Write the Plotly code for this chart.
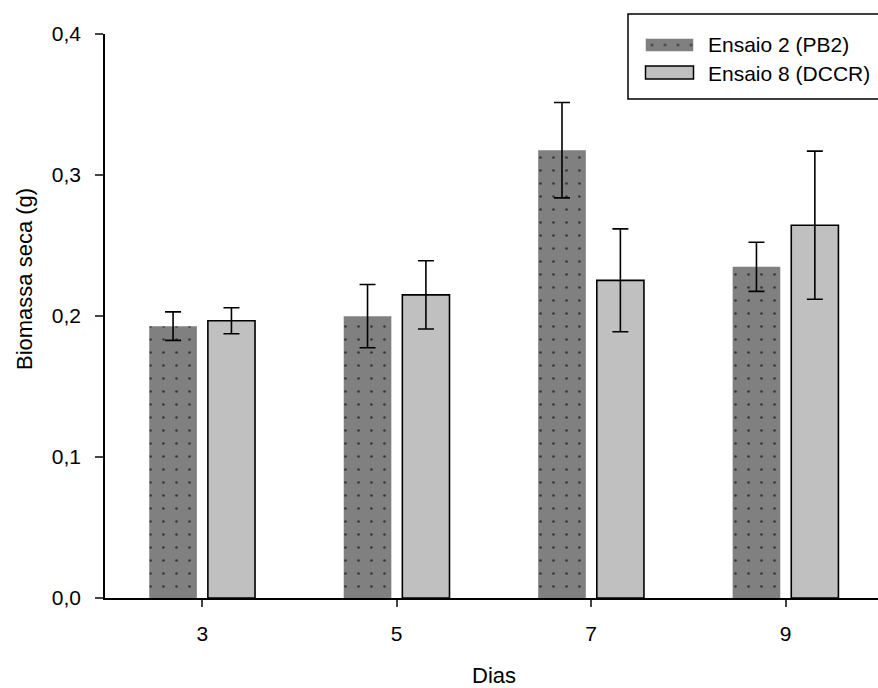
import plotly.graph_objects as go

dias = [3, 5, 7, 9]
ensaio2 = [0.1928, 0.1999, 0.3176, 0.2349]
ensaio2_err = [0.0101, 0.0224, 0.0338, 0.0174]
ensaio8 = [0.1966, 0.2150, 0.2253, 0.2644]
ensaio8_err = [0.0092, 0.0242, 0.0365, 0.0525]
y_ticks = [0.0, 0.1, 0.2, 0.3, 0.4]
nome2 = "Ensaio 2 (PB2)"
nome8 = "Ensaio 8 (DCCR)"

FONT = "Liberation Sans, Arial, sans-serif"
DARK = "#808080"
LIGHT = "#c0c0c0"

# plot geometry (px)
L, R, T, B = 105, 878, 34, 598
W, H = 878, 688
pw, ph = R - L, B - T
def px(x):
    return (x - L) / pw
def py(y):
    return (B - y) / ph

pattern = dict(shape=".", fgcolor="#383838", bgcolor=DARK, size=13, solidity=0.035, fillmode="replace")

fig = go.Figure()
fig.add_trace(go.Bar(
    x=dias, y=ensaio2, name=nome2, width=0.49, offset=-0.545,
    marker=dict(color=DARK, pattern=pattern, line=dict(width=0)),
    error_y=dict(type="data", array=ensaio2_err, color="black", thickness=1.6, width=8),
    showlegend=False,
))
fig.add_trace(go.Bar(
    x=dias, y=ensaio8, name=nome8, width=0.485, offset=0.058,
    marker=dict(color=LIGHT, line=dict(color="black", width=1.6)),
    error_y=dict(type="data", array=ensaio8_err, color="black", thickness=1.6, width=8),
    showlegend=False,
))
# legend swatch for patterned series (on its own small hidden axes)
fig.add_trace(go.Bar(
    x=[0.5], y=[1], width=1, xaxis="x2", yaxis="y2",
    marker=dict(color=DARK, pattern=pattern, line=dict(width=0)),
    showlegend=False, hoverinfo="skip",
))

shapes = [
    # legend box
    dict(type="rect", xref="paper", yref="paper", x0=px(628), x1=px(900), y0=py(99), y1=py(14),
         line=dict(color="black", width=1.5), fillcolor="rgba(0,0,0,0)", layer="above"),
    # light swatch
    dict(type="rect", xref="paper", yref="paper", x0=px(645.5), x1=px(693.5), y0=py(79), y1=py(66),
         line=dict(color="black", width=1.5), fillcolor=LIGHT, layer="above"),
]

annotations = [
    dict(text=nome2, xref="paper", yref="paper", x=px(706), y=py(45), xanchor="left", yanchor="middle",
         showarrow=False, font=dict(family=FONT, size=21, color="black")),
    dict(text=nome8, xref="paper", yref="paper", x=px(706), y=py(73), xanchor="left", yanchor="middle",
         showarrow=False, font=dict(family=FONT, size=21, color="black")),
    dict(text="Biomassa seca (g)", xref="paper", yref="paper", x=px(24), y=py(279), xanchor="center",
         yanchor="middle", textangle=-90, showarrow=False, font=dict(family=FONT, size=22, color="black")),
    dict(text="Dias", xref="x", yref="paper", x=6, y=py(675), xanchor="center", yanchor="middle",
         showarrow=False, font=dict(family=FONT, size=22, color="black")),
]

fig.update_layout(
    width=W, height=H,
    margin=dict(l=L, r=W - R, t=T, b=H - B, pad=0),
    plot_bgcolor="white", paper_bgcolor="white",
    barmode="overlay",
    separators=",.",
    font=dict(family=FONT, size=21, color="black"),
    showlegend=False,
    shapes=shapes,
    annotations=annotations,
    xaxis=dict(range=[2, 9.95], tickvals=dias, ticks="outside", ticklen=7, tickwidth=1.5,
               showline=True, linecolor="black", linewidth=1.5, showgrid=False, zeroline=False,
               ticklabelstandoff=9, tickfont=dict(family=FONT, size=21)),
    yaxis=dict(range=[0, 0.4], tickvals=y_ticks, tickformat=".1f", ticks="outside", ticklen=8,
               tickwidth=1.5, showline=True, linecolor="black", linewidth=1.5, showgrid=False,
               zeroline=False, ticklabelstandoff=10, tickfont=dict(family=FONT, size=21)),
    xaxis2=dict(domain=[px(645.5), px(693.5)], range=[0, 1], visible=False, anchor="y2", fixedrange=True),
    yaxis2=dict(domain=[py(51.5), py(38.5)], range=[0, 1], visible=False, anchor="x2", fixedrange=True),
)

fig.write_html("out.html", config={"displayModeBar": False},
               post_script="document.body.style.margin='0';document.body.style.padding='0';document.body.style.overflow='hidden';")
